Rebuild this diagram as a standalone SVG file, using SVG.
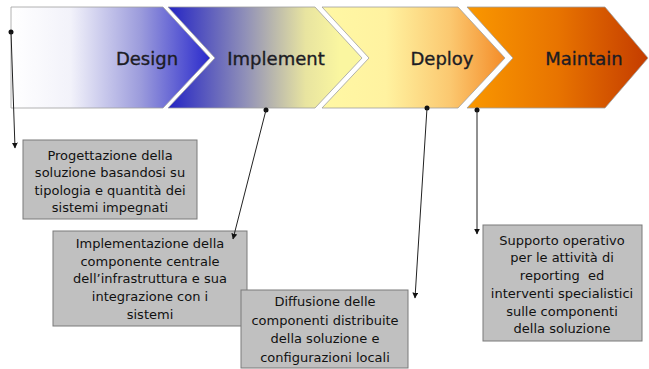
<svg xmlns="http://www.w3.org/2000/svg" width="649" height="369" viewBox="0 0 649 369">
<defs>
<linearGradient id="gD" gradientUnits="userSpaceOnUse" x1="11" y1="0" x2="210" y2="0">
<stop offset="0" stop-color="#ffffff"/><stop offset="0.3" stop-color="#f2f2fa"/><stop offset="0.65" stop-color="#9c9cdc"/><stop offset="1" stop-color="#2a2acc"/></linearGradient>
<linearGradient id="gI" gradientUnits="userSpaceOnUse" x1="168" y1="0" x2="340" y2="0">
<stop offset="0" stop-color="#2424c4"/><stop offset="0.45" stop-color="#9090b8"/><stop offset="0.8" stop-color="#e8e4a0"/><stop offset="1" stop-color="#faf6a0"/></linearGradient>
<linearGradient id="gP" gradientUnits="userSpaceOnUse" x1="322" y1="0" x2="505" y2="0">
<stop offset="0" stop-color="#fff8a4"/><stop offset="0.35" stop-color="#fff2a0"/><stop offset="0.7" stop-color="#fbc870"/><stop offset="1" stop-color="#f48c28"/></linearGradient>
<linearGradient id="gM" gradientUnits="userSpaceOnUse" x1="467" y1="0" x2="648" y2="0">
<stop offset="0" stop-color="#fa9800"/><stop offset="0.5" stop-color="#e87400"/><stop offset="1" stop-color="#c43c00"/></linearGradient>
<marker id="ah" viewBox="0 0 10 10" refX="9" refY="5" markerWidth="6" markerHeight="6" orient="auto" markerUnits="userSpaceOnUse">
<path d="M0,0 L10,5 L0,10 z" fill="#111"/></marker>
<style>
.chev{stroke:#a0a0a0;stroke-width:0.8}
.ct{font-family:"DejaVu Sans",Verdana,sans-serif;font-size:18px;fill:#1c1c24;stroke:#1c1c24;stroke-width:0.35;text-anchor:middle}
.box{fill:#c0c0c0;stroke:#7a7a7a;stroke-width:1}
.bt{font-family:"DejaVu Sans",Verdana,sans-serif;font-size:13px;fill:#111;text-anchor:middle;white-space:pre}
.con{stroke:#222;stroke-width:1;fill:none}
.dot{fill:#111}
</style>
</defs>
<g id="design">
<polygon class="chev" fill="url(#gD)" points="11,7 163,7 210,58 163,108 11,108"/>
<text class="ct" x="147" y="65">Design</text>
</g>
<g id="implement">
<polygon class="chev" fill="url(#gI)" points="168,7 315,7 362,58 315,108 168,108 215,58"/>
<text class="ct" x="276" y="65">Implement</text>
</g>
<g id="deploy">
<polygon class="chev" fill="url(#gP)" points="322,7 458,7 505,58 458,108 322,108 369,58"/>
<text class="ct" x="442" y="65">Deploy</text>
</g>
<g id="maintain">
<polygon class="chev" fill="url(#gM)" points="467,7 605,7 648,58 605,108 467,108 513,58"/>
<text class="ct" x="584" y="65">Maintain</text>
</g>
<g id="box1">
<rect class="box" x="23" y="140" width="174" height="79"/>
<text class="bt" x="110"><tspan x="110" y="160">Progettazione della</tspan><tspan x="110" y="177">soluzione basandosi su</tspan><tspan x="110" y="195">tipologia e quantità dei</tspan><tspan x="110" y="212">sistemi impegnati</tspan></text>
</g>
<g id="box2">
<rect class="box" x="53" y="231" width="194" height="95"/>
<text class="bt" x="150"><tspan x="150" y="248">Implementazione della</tspan><tspan x="150" y="266">componente centrale</tspan><tspan x="150" y="283">dell’infrastruttura e sua</tspan><tspan x="150" y="301">integrazione con i</tspan><tspan x="150" y="319">sistemi</tspan></text>
</g>
<g id="box3">
<rect class="box" x="241" y="290" width="167" height="78"/>
<text class="bt" x="325"><tspan x="325" y="306">Diffusione delle</tspan><tspan x="325" y="325">componenti distribuite</tspan><tspan x="325" y="343">della soluzione e</tspan><tspan x="325" y="362">configurazioni locali</tspan></text>
</g>
<g id="box4">
<rect class="box" x="483" y="225" width="159" height="116"/>
<text class="bt" x="562"><tspan x="562" y="245">Supporto operativo</tspan><tspan x="562" y="262">per le attività di</tspan><tspan x="562" y="280" xml:space="preserve">reporting  ed</tspan><tspan x="562" y="298">interventi specialistici</tspan><tspan x="562" y="316">sulle componenti</tspan><tspan x="562" y="333">della soluzione</tspan></text>
</g>
<g id="connectors">
<circle class="dot" cx="11" cy="32" r="2.5"/>
<line class="con" x1="11" y1="32" x2="15" y2="148" marker-end="url(#ah)"/>
<circle class="dot" cx="266" cy="110" r="2.5"/>
<line class="con" x1="266" y1="110" x2="233" y2="239" marker-end="url(#ah)"/>
<circle class="dot" cx="427" cy="108" r="2.5"/>
<line class="con" x1="427" y1="108" x2="415" y2="298" marker-end="url(#ah)"/>
<circle class="dot" cx="477" cy="110" r="2.5"/>
<line class="con" x1="477" y1="110" x2="477" y2="234" marker-end="url(#ah)"/>
</g>
</svg>
